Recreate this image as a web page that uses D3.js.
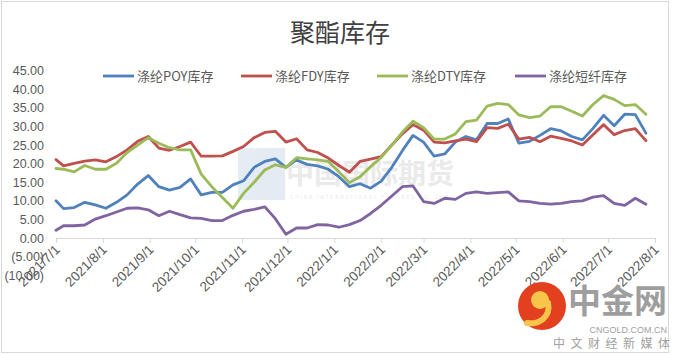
<!DOCTYPE html>
<meta charset="utf-8">
<html>
<style>
 body { margin:0; background:#fff; }
 svg { display:block; font-family:"Noto Sans CJK SC","Noto Sans",sans-serif; }
</style>
<script src="https://d3js.org/d3.v7.min.js"></script>
<svg width="681" height="355"></svg>
<script>
const title = '聚酯库存';
const seriesNames = ['涤纶POY库存','涤纶FDY库存','涤纶DTY库存','涤纶短纤库存'];
const colors = ['#4F81BD','#C0504D','#9BBB59','#8064A2'];
const yTicks = [45,40,35,30,25,20,15,10,5,0,-5,-10];

const dates = ['2021-07-01','2021-07-06','2021-07-13','2021-07-20','2021-07-27','2021-08-03','2021-08-10','2021-08-17','2021-08-24','2021-08-31',
	'2021-09-07','2021-09-14','2021-09-21','2021-09-28','2021-10-05','2021-10-12','2021-10-19','2021-10-26','2021-11-02','2021-11-09',
	'2021-11-16','2021-11-23','2021-11-30','2021-12-07','2021-12-14','2021-12-21','2021-12-28','2022-01-04','2022-01-11','2022-01-18',
	'2022-01-25','2022-02-01','2022-02-08','2022-02-15','2022-02-22','2022-03-01','2022-03-08','2022-03-15','2022-03-22','2022-03-29',
	'2022-04-05','2022-04-12','2022-04-19','2022-04-26','2022-05-03','2022-05-10','2022-05-17','2022-05-24','2022-05-31','2022-06-07',
	'2022-06-14','2022-06-21','2022-06-28','2022-07-05','2022-07-12','2022-07-19','2022-07-26'];

const poy = [10.0,7.9,8.2,9.6,8.9,8.0,9.6,11.6,14.5,16.8,
	13.8,12.9,13.6,15.9,11.6,12.3,12.3,14.3,15.4,19.0,
	20.6,21.3,19.0,21.0,19.8,19.4,18.5,16.5,13.8,14.6,
	13.4,15.3,19.0,23.5,27.6,25.8,22.0,22.6,25.8,27.3,
	26.4,30.8,30.8,32.0,25.5,26.0,27.6,29.4,28.8,27.3,
	26.4,29.5,33.0,30.2,33.3,33.2,28.2];
const fdy = [21.1,19.4,20.1,20.7,21.0,20.5,21.9,23.7,26.0,27.3,
	24.2,23.6,24.6,25.8,22.0,22.0,22.1,23.3,24.6,27.0,
	28.4,28.7,25.8,26.7,23.7,23.0,21.5,19.5,17.7,20.6,
	21.2,21.9,25.0,28.0,30.5,29.0,25.8,25.6,26.1,26.6,
	25.9,29.7,29.5,30.6,26.6,27.1,25.9,27.4,26.8,26.1,
	25.0,27.8,30.5,27.8,28.9,29.4,26.2];
const dty = [18.7,18.5,17.8,19.5,18.5,18.5,20.1,23.0,25.0,27.0,
	25.5,24.3,23.7,23.7,17.2,13.8,10.9,8.0,12.0,15.0,
	18.3,19.7,19.0,21.6,21.3,21.0,20.6,17.8,14.9,16.5,
	19.2,21.7,25.0,28.5,31.4,29.7,26.6,26.6,28.0,31.3,
	31.7,35.5,36.2,35.9,33.1,32.4,32.8,35.3,35.3,34.1,
	32.8,35.9,38.3,37.3,35.6,35.9,33.3];
const psf = [2.1,3.3,3.3,3.5,5.1,6.0,7.0,8.0,8.1,7.6,
	6.0,7.2,6.3,5.4,5.3,4.7,4.7,6.1,7.2,7.7,
	8.4,5.2,1.0,2.7,2.7,3.6,3.5,2.9,3.6,4.7,
	6.6,8.8,11.3,13.8,14.0,9.8,9.3,10.7,10.4,12.0,
	12.4,12.0,12.2,12.4,10.0,9.8,9.3,9.1,9.3,9.8,
	10.0,11.0,11.4,9.3,8.8,10.7,9.1];

const svg = d3.select('svg');
const parse = d3.timeParse('%Y-%m-%d');
const txt = '#595959';

const x = d3.scaleTime()
	.domain([parse('2021-07-01'), parse('2022-08-01')])
	.range([56, 655]);
const y = d3.scaleLinear()
	.domain([-10, 45])
	.range([275.2, 70.7]);

// chart frame
svg.append('rect')
	.attr('x', 1.5).attr('y', 1.5).attr('width', 667).attr('height', 351)
	.attr('fill', 'none').attr('stroke', '#d9d9d9');

// background watermark
const wm = svg.append('g').attr('opacity', 0.75);
wm.append('rect')
	.attr('x', 238).attr('y', 148).attr('width', 47).attr('height', 52)
	.attr('fill', '#dbe5f0');
wm.append('text')
	.attr('x', 286).attr('y', 184)
	.attr('font-size', 28).attr('font-weight', 'bold')
	.attr('fill', '#e3e3e3')
	.text('中国国际期货');
wm.append('text')
	.attr('x', 290).attr('y', 199)
	.attr('font-size', 5).attr('fill', '#e3e3e3')
	.attr('letter-spacing', 1.8)
	.text('CHINA INTERNATIONAL FUTURES CO.,LTD');

svg.append('text')
	.attr('x', 340).attr('y', 42)
	.attr('text-anchor', 'middle')
	.attr('font-size', 25)
	.attr('fill', '#404040')
	.text(title);

const fmt = d => d < 0 ? `(${d3.format('.2f')(-d)})` : d3.format('.2f')(d);
const yAxis = svg.append('g')
	.attr('transform', 'translate(47,0)')
	.call(d3.axisLeft(y).tickValues(yTicks).tickSize(0).tickFormat(fmt));
yAxis.select('.domain').remove();
yAxis.selectAll('text').attr('fill', txt).attr('font-size', 12.5).attr('font-family', '"Liberation Sans",sans-serif');

const xAxis = svg.append('g')
	.attr('transform', `translate(0,${y(0)})`)
	.call(d3.axisBottom(x).ticks(d3.timeMonth.every(1)).tickSize(5).tickSizeOuter(0)
		.tickFormat(d3.timeFormat('%Y/%-m/%-d')));
xAxis.select('.domain').attr('stroke', '#d9d9d9');
xAxis.selectAll('.tick line').attr('stroke', '#d9d9d9');
xAxis.selectAll('.tick text')
	.attr('fill', txt)
	.attr('font-size', 13.5)
	.attr('font-family', '"Liberation Sans",sans-serif')
	.attr('text-anchor', 'end')
	.attr('transform', 'translate(1,9) rotate(-45)')
	.attr('dy', '0.35em')
	.attr('y', 0).attr('x', 0);

const series = [poy, fdy, dty, psf];
const line = d3.line()
	.x((d, i) => x(parse(dates[i])))
	.y(d => y(d));

series.forEach((s, i) => {
	svg.append('path')
		.datum(s)
		.attr('fill', 'none')
		.attr('stroke', colors[i])
		.attr('stroke-width', 2.8)
		.attr('stroke-linejoin', 'round')
		.attr('stroke-linecap', 'round')
		.attr('d', line);
});

const legendX = [103, 241, 377, 515];
seriesNames.forEach((name, i) => {
	const g = svg.append('g').attr('transform', `translate(${legendX[i]},76)`);
	g.append('line')
		.attr('x1', 0).attr('x2', 31)
		.attr('stroke', colors[i]).attr('stroke-width', 2.8);
	g.append('text')
		.attr('x', 34).attr('dy', '0.35em')
		.attr('font-size', 13).attr('fill', txt)
		.text(name);
});

// site logo, bottom right
const logo = svg.append('g');
logo.append('circle').attr('cx', 542).attr('cy', 306).attr('r', 24).attr('fill', '#e2401f');
logo.append('circle').attr('cx', 540).attr('cy', 300).attr('r', 9).attr('fill', '#f7c54a');
logo.append('path')
	.attr('d', 'M548,303 C551,317 539,325 527,323')
	.attr('fill', 'none').attr('stroke', '#f7c54a').attr('stroke-width', 6).attr('stroke-linecap', 'round');
logo.append('text')
	.attr('x', 568).attr('y', 313)
	.attr('font-size', 33).attr('font-weight', 'bold').attr('fill', '#9e9e9e')
	.text('中金网');
logo.append('text')
	.attr('x', 667).attr('y', 333).attr('text-anchor', 'end')
	.attr('font-size', 9).attr('fill', '#a0a0a0')
	.attr('font-family', '"Liberation Sans",sans-serif')
	.text('CNGOLD.COM.CN');
logo.append('text')
	.attr('x', 553).attr('y', 348)
	.attr('font-size', 12).attr('fill', '#a0a0a0')
	.attr('letter-spacing', 5.5)
	.text('中文财经新媒体');
</script>
</html>
